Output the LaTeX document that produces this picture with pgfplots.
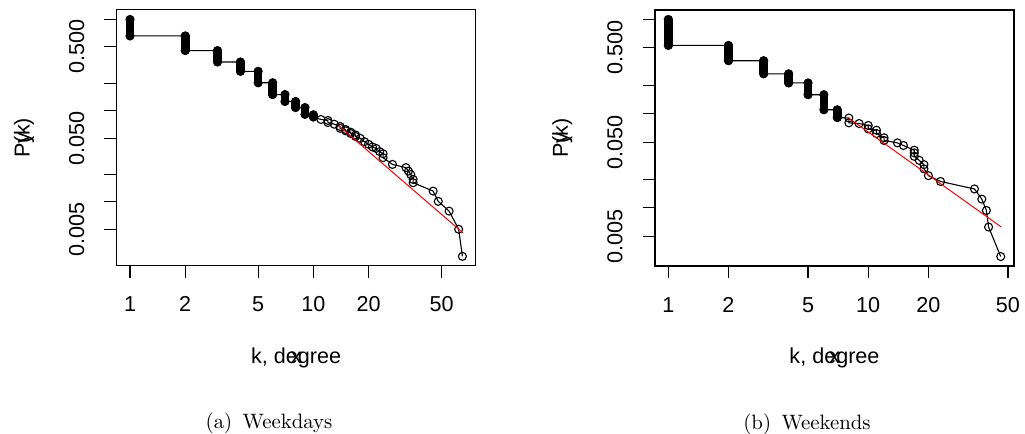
\documentclass[border=0pt]{standalone}
\usepackage{fontspec}
\usepackage{pgfplots}
\pgfplotsset{compat=1.18}
\newfontfamily\arial{Liberation Sans}
\newcommand\rfont{\arial\fontsize{10.8}{13}\selectfont}

\pgfplotsset{
  myraxis/.style={
    scale only axis, width=179.5pt, height=128pt, clip mode=individual,
    axis line style={line width=0.55pt},
    tick style={line width=0.55pt, black},
    tick align=outside, major tick length=6.2pt, minor tick length=0pt,
    xtick pos=bottom, ytick pos=left,
    xtick={1,2,5,10,20,50}, xticklabels={1,2,5,10,20,50},
    ytick={0.005,0.01,0.02,0.05,0.1,0.2,0.5,1},
    yticklabels={0.005,,,0.050,,,0.500,},
    ticklabel style={font=\rfont},
    xticklabel style={anchor=north, inner sep=0pt, yshift=-9.2pt},
    yticklabel style={xshift=-9.8pt, rotate=90, anchor=south, inner sep=0pt},
  },
  myblob/.style={black, line width=4.3pt, line cap=round, no marks},
  mypts/.style={black, line width=0.55pt, mark=o, mark size=2pt},
  myfit/.style={red, line width=0.5pt, no marks},
}

\begin{document}
\begin{tikzpicture}
\path[use as bounding box] (0,0) rectangle (512.5pt,-217pt);

% (a) weekdays
\begin{loglogaxis}[myraxis, at={(58.35pt,-132.85pt)}, anchor=south west,
  xmin=0.846, xmax=76.8, ymin=0.00199, ymax=1.28]
\addplot[myblob] coordinates {(1,1.0) (1,0.66)};
\addplot[myblob] coordinates {(2,0.66) (2,0.456)};
\addplot[myblob] coordinates {(3,0.456) (3,0.342)};
\addplot[myblob] coordinates {(4,0.342) (4,0.270)};
\addplot[myblob] coordinates {(5,0.270) (5,0.202)};
\addplot[myblob] coordinates {(6,0.202) (6,0.150)};
\addplot[myblob] coordinates {(7,0.150) (7,0.126)};
\addplot[myblob] coordinates {(8,0.126) (8,0.108)};
\addplot[myblob] coordinates {(9,0.108) (9,0.091)};
\addplot[myblob] coordinates {(10,0.090) (10,0.086)};
\addplot[mypts] coordinates {
  (1,1.0) (1,0.66) (2,0.66) (2,0.456) (3,0.456) (3,0.342) (4,0.342) (4,0.270)
  (5,0.270) (5,0.202) (6,0.202) (6,0.150) (7,0.150) (7,0.126) (8,0.126) (8,0.108)
  (9,0.108) (9,0.091) (10,0.090) (10,0.085) (11,0.080) (12,0.078) (12,0.074)
  (13,0.071) (14,0.067) (14,0.064) (15,0.062) (15,0.060) (16,0.058) (16,0.056)
  (17,0.054) (17,0.052) (18,0.0497) (19,0.0456) (20,0.0427) (21,0.040)
  (22,0.0385) (23,0.0355) (24,0.0337) (24,0.0305) (27,0.0257) (32,0.0237)
  (33,0.0217) (34,0.0199) (35,0.0176) (35,0.0162) (45,0.0131) (48,0.0101)
  (55,0.0079) (62,0.0050) (65,0.00252)};
\addplot[myfit] coordinates {(13.8,0.0678) (65.5,0.00456)};
\node[font=\rfont, anchor=base, yshift=-48.7pt] at (axis description cs:0.5,0) {k, degree};
\node[font=\rfont, anchor=base, yshift=-48.7pt] at (axis description cs:0.5,0) {x};
\node[font=\rfont, xshift=-43.5pt, rotate=90, anchor=base] at (axis description cs:0,0.5) {P(k)};
\node[font=\rfont, xshift=-43.5pt, rotate=90, anchor=base] at (axis description cs:0,0.5) {y};
\end{loglogaxis}

% (b) weekends
\begin{loglogaxis}[myraxis, at={(327.5pt,-133pt)}, anchor=south west,
  xmin=0.858, xmax=53.6, ymin=0.00242, ymax=1.26]
\addplot[myblob] coordinates {(1,1.0) (1,0.53)};
\addplot[myblob] coordinates {(2,0.53) (2,0.365)};
\addplot[myblob] coordinates {(3,0.365) (3,0.265)};
\addplot[myblob] coordinates {(4,0.265) (4,0.212)};
\addplot[myblob] coordinates {(5,0.212) (5,0.159)};
\addplot[myblob] coordinates {(6,0.159) (6,0.110)};
\addplot[myblob] coordinates {(7,0.110) (7,0.091)};
\addplot[mypts] coordinates {
  (1,1.0) (1,0.53) (2,0.53) (2,0.365) (3,0.365) (3,0.265) (4,0.265) (4,0.212)
  (5,0.212) (5,0.159) (6,0.159) (6,0.110) (7,0.110) (7,0.091) (8,0.090) (8,0.080)
  (9,0.0787) (10,0.075) (10,0.069) (11,0.0668) (11,0.0616) (12,0.0555) (12,0.052)
  (14,0.049) (15,0.046) (17,0.041) (17,0.0384) (17,0.0353) (18,0.032)
  (19,0.0288) (19,0.026) (20,0.022) (23,0.0191) (34,0.0159) (37,0.0124)
  (39,0.0094) (40,0.00627) (46,0.00305)};
\addplot[myfit] coordinates {(7.96,0.0904) (46.3,0.00627)};
\node[font=\rfont, anchor=base, yshift=-48.7pt] at (axis description cs:0.5,0) {k, degree};
\node[font=\rfont, anchor=base, yshift=-48.7pt] at (axis description cs:0.5,0) {x};
\node[font=\rfont, xshift=-43.5pt, rotate=90, anchor=base] at (axis description cs:0,0.5) {P(k)};
\node[font=\rfont, xshift=-43.5pt, rotate=90, anchor=base] at (axis description cs:0,0.5) {y};
\end{loglogaxis}

\node[font=\fontsize{10.4}{12.5}\selectfont, anchor=base] at (134.5pt,-214pt) {(a)\enspace Weekdays};
\node[font=\fontsize{10.4}{12.5}\selectfont, anchor=base] at (403.5pt,-214.5pt) {(b)\enspace Weekends};
\end{tikzpicture}
\end{document}
